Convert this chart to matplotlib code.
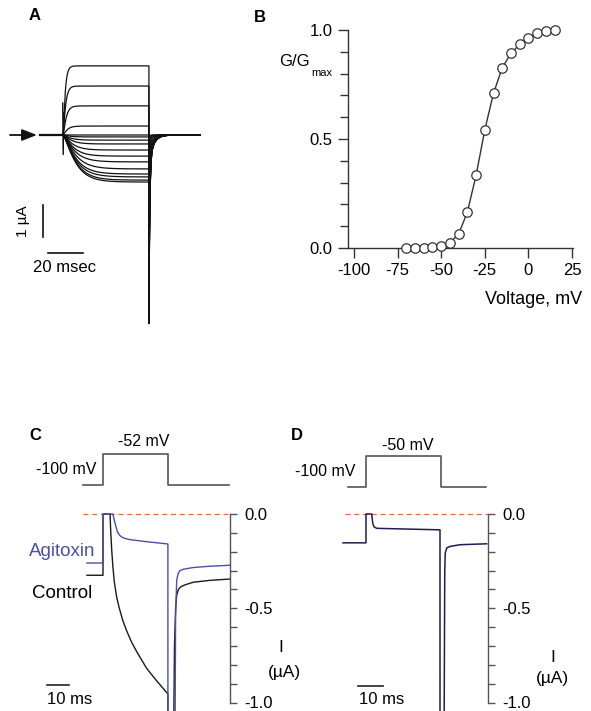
import numpy as np
import matplotlib
matplotlib.use("Agg")
import matplotlib.pyplot as plt
from matplotlib.ticker import MultipleLocator, FixedLocator

plt.rcParams['font.family'] = ['Liberation Sans', 'DejaVu Sans']
plt.rcParams['axes.unicode_minus'] = False

W, H = 591, 711

# ---------------- data ----------------
# Panel A: current families (uA), step 0..49 ms
A_t_start, A_t_off, A_t_end = -13.1, 49.1, 78.3
A_steady = [2.16, 1.53, 0.91, 0.28, 0.0, -0.06, -0.16, -0.28, -0.47, -0.66,
            -0.84, -1.06, -1.22, -1.31, -1.41, -1.47]
A_tau = [1.0, 1.2, 1.5, 2.0, 2.0, 3.0, 3.5, 4.0, 4.5, 5.0, 5.5, 6.0, 6.0, 6.0, 6.0, 6.0]
A_tail = [-5.9, -5.85, -5.8, -5.7, -5.5, -5.2, -4.8, -4.2, -3.4, -2.4, -1.5,
          -0.8, -0.4, -0.2, -0.1, -0.05]
A_transient = [1.0, -0.6]

# Panel B: G/Gmax vs voltage
B_voltage = [-70, -65, -60, -55, -50, -45, -40, -35, -30, -25, -20, -15, -10, -5, 0, 5, 10, 15]
B_g = [0.0, 0.0, 0.0, 0.003, 0.01, 0.024, 0.064, 0.165, 0.333, 0.542, 0.71,
       0.827, 0.893, 0.934, 0.962, 0.985, 0.997, 1.0]
B_xticks = [-100, -75, -50, -25, 0, 25]
B_yticks = [0.0, 0.5, 1.0]

# Panel C: control and agitoxin currents (uA) vs time (ms)
C_ctrl_t = [-7.3, 0, 0, 3.2, 3.5, 3.95, 4.5, 5.14, 6.2, 7.41, 9.0, 10.77, 13.0, 15.3,
            19.9, 24.4, 29.5, 29.5, 32.0, 32.5, 33.0, 33.5, 34.3, 35.5, 37.5, 41.0,
            48.6, 57.7]
C_ctrl_i = [-0.325, -0.325, 0.0, 0.0, -0.09, -0.19, -0.28, -0.36, -0.44, -0.50, -0.565,
            -0.62, -0.68, -0.73, -0.82, -0.885, -0.955, -1.3, -1.3, -0.70, -0.50, -0.43,
            -0.40, -0.385, -0.375, -0.362, -0.352, -0.345]
C_agi_t = [-7.3, 0, 0, 4.5, 5.0, 5.45, 6.5, 7.5, 8.5, 10.0, 12.3, 19.9, 29.5, 29.5,
           32.7, 33.0, 33.5, 34.2, 35.0, 36.5, 41.0, 48.6, 57.7]
C_agi_i = [-0.26, -0.26, 0.0, 0.0, -0.025, -0.048, -0.093, -0.112, -0.122, -0.13, -0.136,
           -0.147, -0.159, -1.3, -1.3, -0.55, -0.35, -0.315, -0.30, -0.293, -0.284,
           -0.277, -0.272]
C_v_hold, C_v_step = -100, -52
C_t_first, C_t_on, C_t_off, C_t_last = -9.1, 0.0, 29.5, 57.3

# Panel D
D_t = [-9.2, 0, 0, 2.3, 2.7, 3.2, 4.3, 13.6, 29.6, 29.6, 31.2, 31.5, 31.7, 32.3,
       33.6, 37.6, 48.3]
D_i = [-0.153, -0.153, 0.0, 0.0, -0.05, -0.068, -0.076, -0.079, -0.084, -1.3, -1.3,
       -0.30, -0.207, -0.18, -0.172, -0.163, -0.158]
D_v_hold, D_v_step = -100, -50
D_t_first, D_t_on, D_t_off, D_t_last = -7.2, 0.0, 30.0, 48.0

I_ticks = [-1.0, -0.5, 0.0]

# ---------------- helpers ----------------
fig = plt.figure(figsize=(W / 100, H / 100), dpi=100)


def px_axes(left, top, right, bottom, x0px, x0val, xs, y0px, y0val, ys):
    ax = fig.add_axes([left / W, 1 - bottom / H, (right - left) / W, (bottom - top) / H])
    ax.set_xlim(x0val + (left - x0px) / xs, x0val + (right - x0px) / xs)
    ax.set_ylim(y0val - (bottom - y0px) / ys, y0val + (y0px - top) / ys)
    ax.patch.set_alpha(0)
    return ax


def ftext(x, y, s, **kw):
    kw.setdefault('ha', 'center')
    kw.setdefault('va', 'center')
    fig.text(x / W, 1 - y / H, s, **kw)


# ---------------- Panel A ----------------
axA = px_axes(0, 30, 210, 335, 63, 0, 1.75, 135, 0, 32)
axA.axis('off')
for ss, tau, tail in zip(A_steady, A_tau, A_tail):
    t1 = np.linspace(0, A_t_off, 400)
    i1 = ss * (1 - np.exp(-t1 / tau)) ** 1.5
    t2 = np.linspace(A_t_off, A_t_end, 800)
    dt = t2 - A_t_off
    i2 = tail * (0.85 * np.exp(-dt / 0.45) + 0.15 * np.exp(-dt / 2.5))
    t = np.concatenate([[A_t_start, 0], t1, t2])
    i = np.concatenate([[0, 0], i1, i2])
    axA.plot(t, i, color='#111111', lw=0.9)
axA.plot([A_t_start, 0], [0, 0], color='#111111', lw=1.6)
axA.plot([-0.15, 0.15], A_transient, color='#111111', lw=1.0)
axA.plot([0.35, 0.2], [0.7, -0.45], color='#111111', lw=0.8)
axA.annotate('', xy=(-14.9, 0), xytext=(-30.3, 0),
             arrowprops=dict(arrowstyle='-|>,head_length=0.9,head_width=0.35',
                             color='#111111', lw=1.3, shrinkA=0, shrinkB=0))
# scale bars
axA.plot([-11.4, -11.4], [-2.19, -3.19], color='#111111', lw=1.2)
axA.plot([-8.57, 11.43], [-3.69, -3.69], color='#111111', lw=1.2)
ftext(33, 268, '20 msec', ha='left', fontsize=12)
ftext(23, 221, '1 µA', rotation=90, fontsize=11)
ftext(35, 16, 'A', fontsize=12, fontweight='bold')

# ---------------- Panel B ----------------
axB = px_axes(348, 30, 573, 248, 354, -100, 1.744, 248, 0, 218)
axB.plot(B_voltage, B_g, color='#333333', lw=1.0, marker='o', ms=6.8, mfc='white',
         mec='#333333', mew=0.9, clip_on=False, zorder=3)
for s in ['top', 'right']:
    axB.spines[s].set_visible(False)
for s in ['left', 'bottom']:
    axB.spines[s].set_color('#333333')
    axB.spines[s].set_linewidth(1.0)
axB.set_xticks(B_xticks)
axB.set_xticklabels([str(v) for v in B_xticks])
axB.set_yticks(B_yticks)
axB.set_yticklabels(['%.1f' % v for v in B_yticks])
axB.yaxis.set_minor_locator(MultipleLocator(0.1))
axB.tick_params(which='both', direction='out', color='#333333', labelsize=12, width=1.0)
axB.tick_params(which='major', length=7, pad=4)
axB.tick_params(which='minor', length=6)
ftext(260, 18, 'B', fontsize=12, fontweight='bold')
ftext(310, 61, 'G/G', ha='right', fontsize=12)
ftext(311, 73, 'max', ha='left', fontsize=8)
ftext(582, 300, 'Voltage, mV', ha='right', fontsize=13)


# ---------------- Panels C & D ----------------
def current_axis(ax):
    for s in ['top', 'left', 'bottom']:
        ax.spines[s].set_visible(False)
    ax.spines['right'].set_color('#555555')
    ax.spines['right'].set_linewidth(1.0)
    ax.spines['right'].set_bounds(-1.0, 0.0)
    ax.yaxis.tick_right()
    ax.set_xticks([])
    ax.set_yticks(I_ticks)
    ax.set_yticklabels(['%.1f' % v for v in I_ticks])
    ax.yaxis.set_minor_locator(FixedLocator(np.round(np.arange(-0.9, 0.0, 0.1), 2)))
    ax.tick_params(axis='y', which='both', direction='out', color='#555555',
                   length=5, width=1.0, labelsize=12, pad=5)


def protocol(ax, tf, ton, toff, tl, vh, vs):
    ax.axis('off')
    ax.plot([tf, ton, ton, toff, toff, tl], [vh, vh, vs, vs, vh, vh],
            color='#555555', lw=1.2)


# C
axCp = px_axes(20, 420, 230, 500, 103, 0, 2.2, 485, -100, 31 / 48)
protocol(axCp, C_t_first, C_t_on, C_t_off, C_t_last, C_v_hold, C_v_step)
axC = px_axes(20, 420, 230, 711, 103, 0, 2.2, 514, 0, 188.5)
current_axis(axC)
axC.plot([-9.1, 57.7], [0, 0], color='#e8663f', lw=0.9, ls=(0, (4, 3)))
axC.plot(C_ctrl_t, C_ctrl_i, color='#1a1a1a', lw=1.0)
axC.plot(C_agi_t, C_agi_i, color='#4b4fa6', lw=1.0)
axC.plot([-25.5, -15.5], [-0.907, -0.907], color='#222222', lw=1.2)
ftext(35, 435, 'C', fontsize=12, fontweight='bold')
ftext(144, 442, '-52 mV', fontsize=11.5)
ftext(66, 470, '-100 mV', fontsize=11.5)
ftext(62, 552, 'Agitoxin', fontsize=13.5, color='#4b4fa6')
ftext(62, 593, 'Control', fontsize=13.5)
ftext(281, 648, 'I', fontsize=12.5)
ftext(284, 673, '(µA)', fontsize=12.5)
ftext(47, 699, '10 ms', ha='left', fontsize=12)

# D
axDp = px_axes(300, 420, 488, 500, 366, 0, 2.5, 487, -100, 31 / 50)
protocol(axDp, D_t_first, D_t_on, D_t_off, D_t_last, D_v_hold, D_v_step)
axD = px_axes(300, 420, 488, 711, 366, 0, 2.5, 514, 0, 188.5)
current_axis(axD)
axD.plot([-8.4, 48.8], [0, 0], color='#e8663f', lw=0.9, ls=(0, (4, 3)))
axD.plot(D_t, D_i, color='#1e1e50', lw=1.1)
axD.plot([-3.2, 6.8], [-0.912, -0.912], color='#222222', lw=1.2)
ftext(297, 435, 'D', fontsize=12, fontweight='bold')
ftext(408, 445, '-50 mV', fontsize=11.5)
ftext(325, 472, '-100 mV', fontsize=11.5)
ftext(553, 657, 'I', fontsize=12.5)
ftext(552, 678, '(µA)', fontsize=12.5)
ftext(359, 699, '10 ms', ha='left', fontsize=12)

fig.savefig('out.png', dpi=100)
